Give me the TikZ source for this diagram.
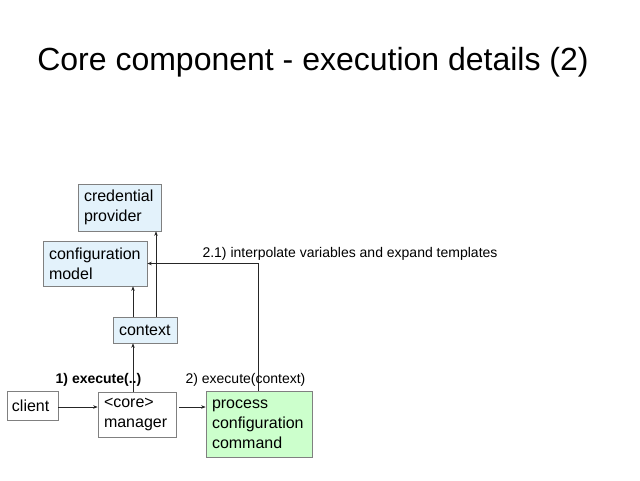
\documentclass[tikz,border=0pt]{standalone}
\usepackage{fontspec}
\setmainfont{Liberation Sans}
\usetikzlibrary{arrows.meta}
\definecolor{paleblue}{RGB}{227,242,251}
\definecolor{palegreen}{RGB}{204,255,204}
\begin{document}
\begin{tikzpicture}[x=1pt,y=-1pt,
  box/.style={draw=black!50, line width=0.7pt, inner sep=0pt, align=left,
    font=\fontsize{16}{20}\selectfont, anchor=center},
  bluebox/.style={box, fill=paleblue},
  greenbox/.style={box, fill=palegreen},
  arr/.style={draw=black!85, line width=0.6pt, -{Stealth[length=4.5pt,width=3.5pt]}},
  lbl/.style={font=\fontsize{14}{16}\selectfont, inner sep=0pt}]
\useasboundingbox (0,0) rectangle (640,480);

% title
\node[inner sep=0pt, font=\fontsize{32}{38}\selectfont] (title) at (313,62) {Core component - execution details (2)};

% component boxes
\node[bluebox, minimum width=83pt, minimum height=47pt, text width=71pt] (cred) at (119.5,207.5) {credential\\provider};
\node[bluebox, minimum width=104pt, minimum height=45pt, text width=92pt] (model) at (95,263.5) {configuration\\model};
\node[bluebox, minimum width=64pt, minimum height=26pt, text width=52pt] (ctx) at (145,330) {context};
\node[box, fill=white, minimum width=51pt, minimum height=29pt, text width=41pt] (client) at (32.5,406) {client};
\node[box, fill=white, minimum width=78pt, minimum height=45pt, text width=66pt] (mgr) at (137,414.5) {<core>\\manager};
\node[greenbox, minimum width=106pt, minimum height=66pt, text width=94pt] (proc) at (259,424) {process\\configuration\\command};

% connector columns and the call row
\coordinate (colA) at (133,0);
\coordinate (colB) at (156,0);
\coordinate (colC) at (258,0);
\coordinate (rowCall) at (0,407);

% connectors
\draw[arr] (rowCall -| client.east) -- (rowCall -| mgr.west);
\draw[arr, shorten <=3pt] (rowCall -| mgr.east) -- (rowCall -| proc.west);
\draw[arr] (colA |- mgr.north) -- (colA |- ctx.south);
\draw[arr] (colA |- ctx.north) -- (colA |- model.south);
\draw[arr] (colB |- ctx.north) -- (colB |- cred.south);
\draw[arr] (colC |- proc.north) -- (colC |- model.east) -- (model.east);

% labels
\node[lbl, font=\fontsize{14}{16}\selectfont\bfseries] (l1) at (98.5,380) {1) execute(..)};
\node[lbl] (l2) at (245.5,380) {2) execute(context)};
\node[lbl] (l21) at (350,254) {2.1) interpolate variables and expand templates};
\end{tikzpicture}
\end{document}
